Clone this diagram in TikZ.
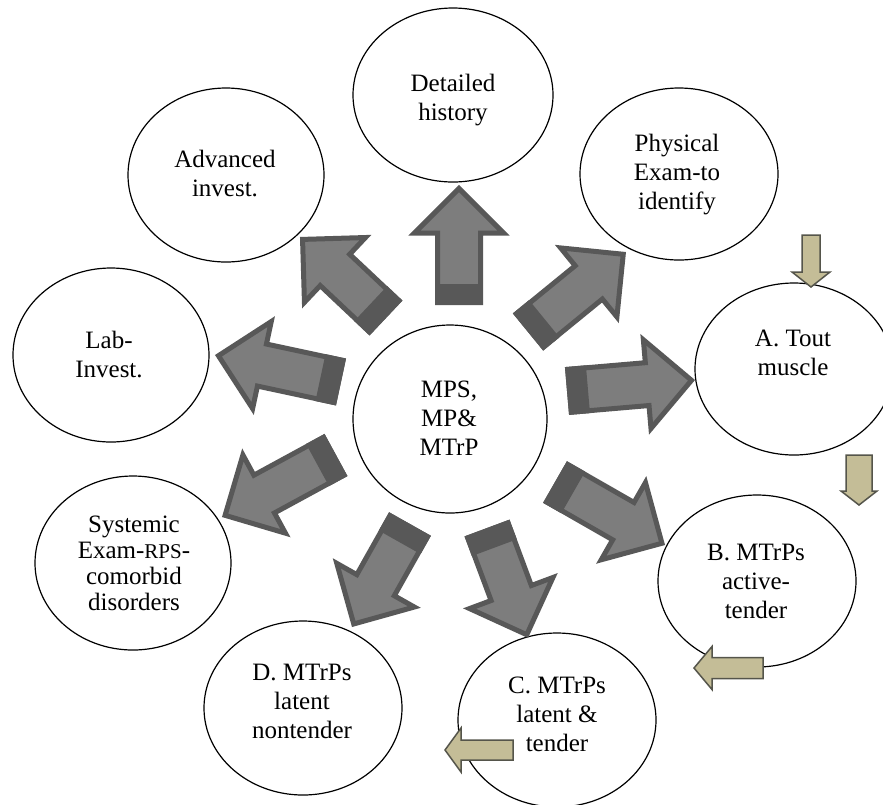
\documentclass[tikz,border=0pt]{standalone}
\usepackage{fontspec}
\newfontfamily\timesx{LiberationSerif}[Extension=.ttf, UprightFont=*-Regular, BoldFont=*-Bold]
\usetikzlibrary{shapes.geometric,calc}
\definecolor{armid}{RGB}{125,125,125}
\definecolor{ardark}{RGB}{88,88,88}
\definecolor{tanfill}{RGB}{196,189,151}
\definecolor{tanline}{RGB}{85,85,75}
\newcommand\arrgeom[2]{%
  \path let \p1=($(#2)-(#1)$) in \pgfextra{%
    \pgfmathsetmacro\myAng{atan2(\y1,\x1)}%
    \pgfmathsetmacro\myLen{veclen(\x1,\y1)}%
    \global\let\myAngG\myAng \global\let\myLenG\myLen};}
\newcommand\blockarrow[2]{%
  \arrgeom{#1}{#2}%
  \begin{scope}[shift={(#1)}, rotate=\myAngG]
    \filldraw[bigarr] (2.5,-21.5) -- ({\myLenG-48},-21.5) -- ({\myLenG-48},-44.5)
      -- ({\myLenG-3.5},0) -- ({\myLenG-48},44.5) -- ({\myLenG-48},21.5) -- (2.5,21.5) -- cycle;
    \fill[ardark] (0,-24) rectangle (21,24);
  \end{scope}}
\newcommand\tanarrow[5]{%
  \arrgeom{#1}{#2}%
  \begin{scope}[shift={(#1)}, rotate=\myAngG]
    \filldraw[smallarr] (0,-#3) -- ({\myLenG-#5},-#3) -- ({\myLenG-#5},-#4)
      -- ({\myLenG},0) -- ({\myLenG-#5},#4) -- ({\myLenG-#5},#3) -- (0,#3) -- cycle;
  \end{scope}}
\tikzset{
  ell/.style={ellipse, draw=black, line width=1.2pt, fill=white, inner sep=0pt},
  txt/.style={align=center, font=\timesx\fontsize{25}{29}\selectfont, inner sep=0pt},
  bigarr/.style={fill=armid, draw=ardark, line width=5pt, line join=miter},
  smallarr/.style={fill=tanfill, draw=tanline, line width=1.5pt, line join=miter},
}
\begin{document}
\begin{tikzpicture}[x=1pt, y=-1pt]
\useasboundingbox (0,0) rectangle (883,804);
\fill[white] (0,0) rectangle (883,804);
% ellipses
\node[ell, minimum width=194pt, minimum height=188pt] (ctr) at (450,419) {};
\node[ell, minimum width=200pt, minimum height=174pt] (hist) at (453,95) {};
\node[ell, minimum width=196pt, minimum height=174pt] (adv) at (226,175) {};
\node[ell, minimum width=198pt, minimum height=172pt] (phys) at (679,174) {};
\node[ell, minimum width=198pt, minimum height=172pt] (toutA) at (794,369) {};
\node[ell, minimum width=198pt, minimum height=172pt] (mtB) at (757,581) {};
\node[ell, minimum width=198pt, minimum height=174pt] (mtC) at (557,720) {};
\node[ell, minimum width=198pt, minimum height=174pt] (mtD) at (303,708) {};
\node[ell, minimum width=196pt, minimum height=174pt] (sys) at (133,563) {};
\node[ell, minimum width=196pt, minimum height=174pt] (lab) at (111,355) {};
% texts
\node[txt] (ctrT) at (449,418) {MPS,\\MP\&\\MTrP};
\node[txt] (histT) at (453,100) {Detailed\\history};
\node[txt] (advT) at (225,173) {Advanced\\invest.};
\node[txt] (physT) at (677,175) {Physical\\Exam-to\\identify};
\node[txt] (toutAT) at (793,353) {A. Tout\\muscle};
\node[txt] (mtBT) at (756,581) {B. MTrPs\\active-\\tender};
\node[txt] (mtCT) at (557,714) {C. MTrPs\\latent \&\\tender};
\node[txt] (mtDT) at (302,701) {D. MTrPs\\latent\\nontender};
\node[txt, font=\timesx\fontsize{25}{26}\selectfont] (sysT) at (134,563) {Systemic\\Exam-{\fontsize{21}{26}\selectfont RPS}-\\comorbid\\disorders};
\node[txt] (labT) at (109,354) {Lab-\\Invest.};
% arrow end points
\coordinate (h0) at (459,305); \coordinate (h1) at (459,185);
\coordinate (a0) at (386,318); \coordinate (a1) at (300,237);
\coordinate (l0) at (341,382); \coordinate (l1) at (215,355);
\coordinate (s0) at (336,455); \coordinate (s1) at (222,517);
\coordinate (d0) at (410,524); \coordinate (d1) at (352,627);
\coordinate (c0) at (487,528); \coordinate (c1) at (528,638);
\coordinate (b0) at (555,482); \coordinate (b1) at (665,545);
\coordinate (t0) at (567,391); \coordinate (t1) at (695,380);
\coordinate (p0) at (528,332); \coordinate (p1) at (626,252);
\blockarrow{h0}{h1}
\blockarrow{a0}{a1}
\blockarrow{l0}{l1}
\blockarrow{s0}{s1}
\blockarrow{d0}{d1}
\blockarrow{c0}{c1}
\blockarrow{b0}{b1}
\blockarrow{t0}{t1}
\blockarrow{p0}{p1}
% small tan arrows
\coordinate (q0) at (811,235); \coordinate (q1) at (811,287);
\coordinate (r0) at (859,455); \coordinate (r1) at (859,505);
\coordinate (u0) at (763,668); \coordinate (u1) at (694,668);
\coordinate (v0) at (513,750); \coordinate (v1) at (445,750);
\tanarrow{q0}{q1}{9}{19}{15}
\tanarrow{r0}{r1}{13}{18}{14}
\tanarrow{u0}{u1}{10.5}{21.5}{18}
\tanarrow{v0}{v1}{10}{22}{16}
\end{tikzpicture}
\end{document}
